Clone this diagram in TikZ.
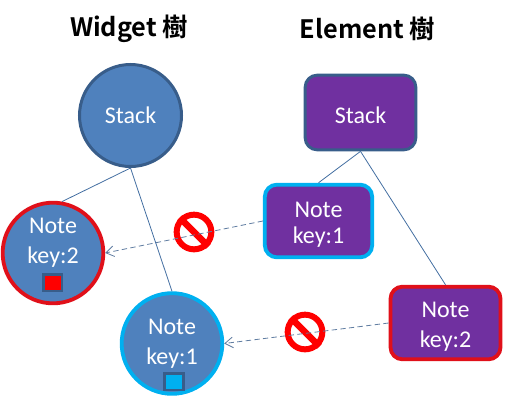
\documentclass[tikz,border=0pt]{standalone}
\usepackage{fontspec}
\usetikzlibrary{arrows.meta}
\setmainfont{Carlito}
\newfontfamily\titlefont{Noto Sans CJK TC}[BoldFont={Noto Sans CJK TC Bold}]
\definecolor{wblue}{HTML}{4F81BD}
\definecolor{wedge}{HTML}{385D8A}
\definecolor{epurple}{HTML}{7030A0}
\definecolor{keycyan}{HTML}{00B0F0}
\definecolor{keyred}{HTML}{E0101A}
\begin{document}
\begin{tikzpicture}[
    x=0.75pt, y=-0.75pt,
    wcirc/.style = {circle, draw=wedge, fill=wblue, line width=2.25pt, minimum size=76.5pt, inner sep=0pt, text=white, font=\fontsize{18}{22.5}\selectfont, align=center},
    ebox/.style = {rectangle, draw=wedge, fill=epurple, line width=2.25pt, rounded corners=9pt, inner sep=0pt, text=white, font=\fontsize{18}{22.5}\selectfont, align=center},
    keyed/.style = {draw=#1, line width=2.85pt},
    title/.style = {font=\titlefont\bfseries\fontsize{19}{23}\selectfont},
    keymark/.style = {rectangle, draw=wedge, line width=2pt, minimum width=14pt, minimum height=12.5pt, inner sep=0pt},
    nosign/.style = {circle, draw=red, line width=4.5pt, minimum size=26pt, inner sep=0pt},
    tree/.style = {draw=wblue!85!black, line width=0.6pt},
    blocked/.style = {draw=wedge!80, line width=0.6pt, dash pattern=on 4pt off 2.5pt, -{Straight Barb[length=6pt,width=8pt]}}
]
    \useasboundingbox (0, 0) rectangle (506, 403);

    \node[title] (wtitle) at (129, 29) {Widget 樹};
    \node[title] (etitle) at (367.5, 29) {Element 樹};

    \node[wcirc] (wstack) at (130.5, 115.5) {Stack};
    \node[wcirc, keyed=keyred, minimum size=75.5pt, text depth=18pt] (wnote2) at (53, 253) {Note\\key:2};
    \node[wcirc, keyed=keycyan, minimum size=75.5pt] (wnote1) at (172, 343.5) {Note\\key:1};

    \node[ebox, minimum width=83pt, minimum height=56pt, text height=17pt] (estack) at (360.5, 112.5) {Stack};
    \node[ebox, keyed=keycyan, minimum width=80.5pt, minimum height=54.5pt, text height=36pt] (enote1) at (318.5, 221) {Note\\[-3pt]key:1};
    \node[ebox, keyed=keyred, minimum width=82.5pt, minimum height=54.5pt, text height=40pt] (enote2) at (445.5, 323) {Note\\key:2};

    \node[keymark, fill=red] (mark2) at (52.5, 282.5) {};
    \node[keymark, fill=keycyan] (mark1) at (174, 381.5) {};

    \node[nosign] (sign1) at (194, 232) {};
    \node[nosign] (sign2) at (305, 332) {};
    \foreach \s in {sign1, sign2}
        \draw[red, line width=5pt] (\s.135) -- (\s.315);

    % tree edges
    \path[tree] (wstack.south) -- (wnote2.80);
    \path[tree] (wstack.south) -- (wnote1.north);
    \path[tree] (estack.south) -- (enote1.north);
    \path[tree] (estack.south) -- (enote2.north);

    % no match between the two trees
    \path[blocked] (enote1.west) -- (wnote2.east);
    \path[blocked] (enote2.west) -- (wnote1.east);
\end{tikzpicture}
\end{document}
